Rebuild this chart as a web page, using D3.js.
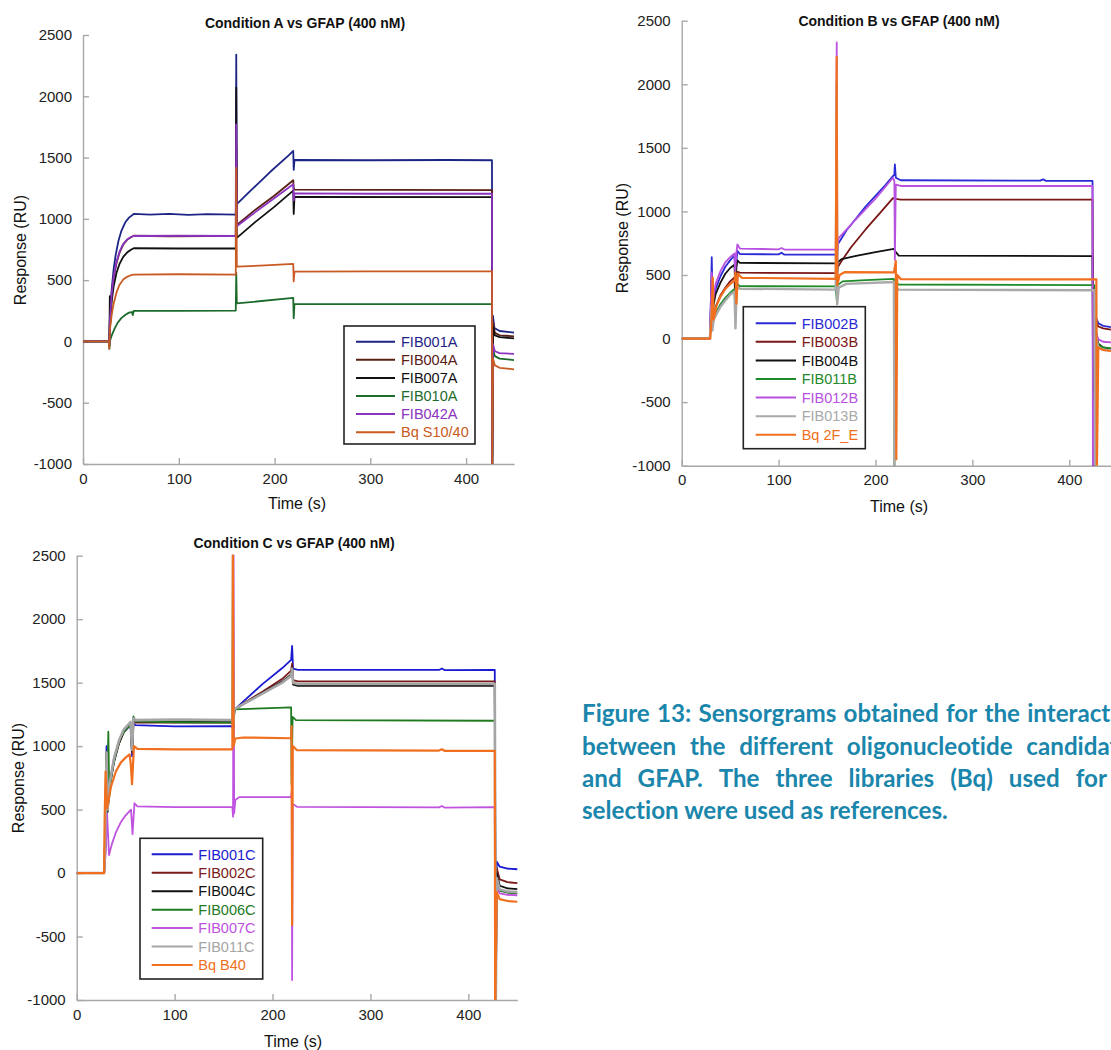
<!DOCTYPE html>
<html>
<head>
<meta charset="utf-8">
<script src="https://cdn.jsdelivr.net/npm/d3@7"></script>
<style>
  body { margin: 0; background: #fff; overflow: hidden; }
  svg { display: block; }
</style>
</head>
<body>
<div id="wrapper"></div>
<script>
// ---- data: [time (s), response (RU)] ----
const xTicks = [0, 100, 200, 300, 400]
const yTicks = [-1000, -500, 0, 500, 1000, 1500, 2000, 2500]

// Condition A
const namesA = ["FIB001A", "FIB004A", "FIB007A", "FIB010A", "FIB042A", "Bq S10/40"]
const fib001A = [[0,0],[27,0],[27.5,-40],[28,180],[29,320],[30,430],[32,590],[34,700],[37,820],[40,900],[44,970],[48,1010],[53,1040],[70,1035],[90,1040],[110,1032],[130,1038],[159.5,1035],[160,2340],[160.6,1120],[175,1230],[195,1380],[215,1520],[219.5,1555],[220,1400],[220.8,1480],[300,1478],[380,1480],[427,1478],[427.3,-930],[428,210],[429.5,110],[435,85],[450,72]]
const fib004A = [[0,0],[27,0],[27.5,-30],[28,150],[30,380],[32,520],[35,640],[38,720],[42,790],[46,830],[50,850],[53,862],[90,858],[130,860],[159.5,860],[160,1600],[160.6,950],[180,1075],[200,1190],[219.5,1315],[220,1250],[220.8,1238],[427,1235],[427.3,-1050],[428,160],[430,70],[435,50],[450,42]]
const fib007A = [[0,0],[27,0],[27.5,-30],[28,370],[28.6,150],[30,330],[32,450],[35,560],[38,630],[42,690],[46,725],[50,748],[53,760],[100,758],[159.5,758],[160,2070],[160.6,845],[180,975],[200,1100],[219.5,1230],[220,1040],[220.8,1180],[427,1178],[427.3,-1050],[428,120],[430,50],[435,35],[450,25]]
const fib010A = [[0,0],[27,0],[27.5,-60],[28,0],[30,50],[33,105],[36,150],[40,190],[44,215],[48,235],[51,240],[52,215],[53,250],[100,250],[159.5,252],[160,560],[160.6,310],[219.5,355],[220,190],[220.8,305],[427,305],[427.3,-1050],[428,-60],[430,-120],[435,-140],[450,-152]]
const fib042A = [[0,0],[27,0],[27.5,-30],[28,160],[30,390],[32,530],[35,650],[38,730],[42,795],[46,830],[50,852],[53,860],[100,862],[159.5,860],[160,1770],[160.6,940],[180,1055],[200,1170],[219.5,1282],[220,1150],[220.8,1208],[300,1205],[427,1205],[427.3,-1050],[428,-20],[430,-80],[435,-95],[450,-102]]
const bqS1040 = [[0,0],[27,0],[27.5,-60],[28,90],[30,220],[32,310],[35,400],[38,460],[42,505],[46,527],[50,540],[53,545],[100,548],[159.5,545],[160,1415],[160.6,610],[190,620],[219.5,632],[220,490],[220.8,570],[300,572],[427,572],[427.3,-1050],[428,-140],[430,-195],[435,-215],[450,-228]]

// Condition B
const namesB = ["FIB002B", "FIB003B", "FIB004B", "FIB011B", "FIB012B", "FIB013B", "Bq 2F_E"]
const fib002B = [[0,0],[29,0],[30,250],[31,640],[32,260],[35,390],[40,490],[45,565],[50,615],[54.5,655],[55.2,470],[56.5,610],[57.5,690],[60,665],[100,662],[103,675],[106,660],[159,660],[160,450],[161,740],[170,850],[190,1040],[210,1205],[218,1278],[219.5,1290],[220,1370],[221,1265],[226,1245],[370,1242],[373,1252],[376,1240],[424,1240],[424.6,-1050],[428,160],[430,120],[435,100],[443,90]]
const fib003B = [[0,0],[29,0],[30,100],[31,260],[32,140],[35,250],[40,340],[45,400],[50,450],[54.5,480],[55.2,320],[56.5,450],[57.5,525],[60,518],[159,515],[160,420],[161,560],[165,610],[175,720],[190,860],[205,990],[218,1105],[221,1098],[226,1092],[424,1092],[425,-1050],[428,130],[430,95],[435,80],[443,70]]
const fib004B = [[0,0],[29,0],[30,200],[31,470],[32,230],[35,350],[40,440],[45,510],[50,555],[54.5,580],[55.2,400],[56.5,560],[57.5,615],[60,595],[159,592],[160,460],[161,600],[165,625],[180,650],[200,680],[219,705],[221,680],[224,652],[424,648],[425,-1050],[428,40],[430,-40],[435,-70],[443,-80]]
const fib011B = [[0,0],[29,0],[30,150],[31,280],[32,120],[35,200],[40,270],[45,320],[50,360],[54.5,390],[55.2,220],[56.5,370],[57.5,430],[60,412],[159,410],[160,300],[161,420],[166,450],[190,460],[219,470],[219.5,-1050],[220.5,440],[224,425],[426,420],[426.5,-1050],[428,20],[430,-50],[435,-70],[443,-78]]
const fib012B = [[0,0],[29,0],[30,280],[31,520],[32,280],[35,430],[40,530],[45,600],[50,640],[54.5,670],[55.2,520],[56.5,680],[57.5,740],[60,708],[100,702],[103,712],[106,700],[159,700],[160,2330],[160.6,700],[162,790],[180,940],[200,1100],[218,1265],[219.5,1240],[220,620],[221,1210],[226,1200],[424,1200],[424.4,-1050],[428,40],[430,-5],[435,-25],[443,-30]]
const fib013B = [[0,0],[29,0],[30,120],[31,260],[31.7,63],[33,150],[40,250],[45,300],[50,345],[54.5,370],[55.5,80],[56.5,350],[57.5,410],[60,392],[159,385],[160,2000],[160.5,270],[162,400],[170,430],[219,445],[219.5,-1050],[220.5,400],[224,385],[426,380],[426.7,-1050],[428,0],[430,-70],[435,-88],[443,-95]]
const bq2FE = [[0,0],[29.5,0],[31,180],[32,480],[33,150],[36,260],[40,330],[45,390],[50,430],[54.5,455],[55.5,520],[56.5,275],[58,510],[62,478],[159,470],[160,2215],[160.5,420],[163,500],[168,522],[219,520],[221,610],[221.5,-950],[222.5,500],[226,468],[428,465],[428.5,-1050],[430,-70],[435,-90],[443,-98]]

// Condition C
const namesC = ["FIB001C", "FIB002C", "FIB004C", "FIB006C", "FIB007C", "FIB011C", "Bq B40"]
const fib001C = [[0,0],[28,0],[29,300],[30.5,1000],[31.5,520],[34,720],[38,900],[43,1030],[48,1110],[55,1165],[56.5,920],[58,1180],[60,1165],[100,1155],[159,1158],[160,1100],[161,1285],[170,1350],[190,1490],[210,1615],[219,1680],[220,1790],[221,1610],[226,1600],[370,1600],[373,1612],[376,1598],[427,1600],[427.6,-1050],[429,90],[432,50],[440,35],[450,30]]
const fib002C = [[0,0],[28,0],[29,280],[30.5,950],[31.5,500],[34,700],[38,880],[43,1020],[48,1110],[55,1175],[56.5,950],[58,1200],[60,1185],[159,1185],[160,1150],[161,1285],[170,1335],[190,1430],[210,1530],[219,1595],[220,1650],[221,1520],[226,1510],[427,1510],[428,-1050],[429,40],[432,-50],[440,-72],[450,-80]]
const fib004C = [[0,0],[28,0],[29,260],[30.5,920],[31.5,480],[34,690],[38,870],[43,1015],[48,1110],[55,1180],[56.5,960],[58,1210],[60,1195],[159,1195],[160,1160],[161,1285],[170,1330],[190,1420],[210,1510],[219,1565],[220,1620],[221,1485],[226,1475],[427,1475],[428,-1050],[429,0],[432,-100],[440,-120],[450,-127]]
const fib006C = [[0,0],[28,0],[29.5,200],[31,600],[32.3,1113],[33.3,600],[36,800],[40,950],[45,1070],[50,1130],[55,1165],[56.5,1048],[58,1235],[60,1195],[100,1188],[159,1185],[159.5,2600],[160.3,1240],[162,1290],[190,1298],[219,1305],[219.5,700],[220.5,1230],[224,1205],[427,1200],[427.8,-1050],[429,-60],[432,-140],[440,-155],[450,-160]]
const fib007C = [[0,0],[28,0],[29.5,150],[31,472],[33,142],[36,230],[40,320],[45,400],[50,455],[55.5,500],[57,307],[59,550],[62,525],[100,520],[159,520],[159.7,444],[160.2,2600],[160.8,470],[162,575],[166,598],[219,600],[219.6,640],[220,-843],[220.6,545],[225,522],[370,518],[373,528],[376,515],[427,520],[427.8,-1050],[429,-110],[432,-160],[440,-172],[450,-175]]
const fib011C = [[0,0],[28,0],[29,270],[30.5,950],[31.5,500],[34,720],[38,900],[43,1040],[48,1130],[55,1190],[56.5,970],[58,1220],[60,1205],[100,1210],[159,1205],[160,1170],[161,1290],[170,1330],[190,1415],[210,1500],[219,1555],[220,1610],[221,1500],[226,1490],[427,1490],[428,-1050],[429,-40],[432,-130],[440,-145],[450,-150]]
const bqB40 = [[0,0],[28,0],[28.5,400],[29.5,800],[31,510],[35,680],[40,800],[45,870],[50,910],[54,935],[55.2,860],[56.5,701],[58.5,1000],[62,978],[100,975],[159,975],[159.5,2600],[160.3,1000],[162,1060],[170,1068],[219,1062],[219.5,1157],[220,-410],[220.7,1000],[225,968],[370,965],[373,975],[376,962],[427,963],[427.4,-1050],[429,-150],[432,-205],[440,-220],[450,-226]]

const captionLines = [
    "Figure 13: Sensorgrams obtained for the interaction",
    "between the different oligonucleotide candidates",
    "and GFAP. The three libraries (Bq) used for",
    "selection were used as references."
]

// ---- layout ----
const panels = [
    {
        title: "Condition A vs GFAP (400 nM)", names: namesA,
        series: [fib001A, fib004A, fib007A, fib010A, fib042A, bqS1040],
        colors: ["#1c2585", "#5a2016", "#111111", "#1d6b2b", "#8b34c0", "#c85a22"],
        widths: [1.8, 1.8, 1.8, 1.8, 1.8, 1.8],
        left: 83, right: 514, top: 35, bottom: 464,
        titleX: 305, titleY: 28, yLabX: 26, yLabY: 250, xLabX: 297, xLabY: 509,
        legend: { x: 344, y: 326, w: 131, h: 118, row0: 341.7, step: 18.1, lx0: 356, lx1: 395, tx: 401 }
    },
    {
        title: "Condition B vs GFAP (400 nM)", names: namesB,
        series: [fib002B, fib003B, fib004B, fib011B, fib012B, fib013B, bq2FE],
        colors: ["#2a2ad6", "#7a1616", "#111111", "#1f8a2a", "#b851e0", "#a9a9a9", "#f07020"],
        widths: [1.8, 1.8, 1.8, 1.8, 1.8, 2.4, 2.2],
        left: 681.7, right: 1117.7, top: 20.7, bottom: 465.7,
        titleX: 899, titleY: 26, yLabX: 628, yLabY: 238, xLabX: 899, xLabY: 512,
        legend: { x: 743.3, y: 306.7, w: 122, h: 142, row0: 323.3, step: 18.57, lx0: 755.7, lx1: 796, tx: 801.7 }
    },
    {
        title: "Condition C vs GFAP (400 nM)", names: namesC,
        series: [fib001C, fib002C, fib004C, fib006C, fib007C, fib011C, bqB40],
        colors: ["#1a1ad0", "#7a1a1a", "#111111", "#1f7a1f", "#c052e0", "#a5a5a5", "#f07020"],
        widths: [1.8, 1.8, 1.8, 1.8, 1.8, 2.6, 2.2],
        left: 76.7, right: 517.3, top: 555.7, bottom: 1000,
        titleX: 294, titleY: 548, yLabX: 24, yLabY: 778, xLabX: 293, xLabY: 1047,
        legend: { x: 140, y: 838.3, w: 122.7, h: 140.7, row0: 854.3, step: 18.45, lx0: 151.7, lx1: 192.7, tx: 198.3 }
    }
]

const svg = d3.select("#wrapper")
    .append("svg")
        .attr("width", 1111)
        .attr("height", 1050)
        .style("font-family", "'Liberation Sans', Arial, sans-serif")

panels.forEach((p, i) => drawPanel(p, i))
drawCaption()

function drawPanel(p, idx) {
    const xScale = d3.scaleLinear().domain([0, 450]).range([p.left, p.right])
    const yScale = d3.scaleLinear().domain([-1000, 2500]).range([p.bottom, p.top])
    const g = svg.append("g")
    const plain = d => String(d)   // "2500", "-1000" as in the original

    g.append("clipPath").attr("id", "clip" + idx)
        .append("rect")
            .attr("x", p.left).attr("y", p.top - 1)
            .attr("width", p.right - p.left + 2)
            .attr("height", p.bottom - p.top + 1)

    // axes
    const xAxis = g.append("g")
        .attr("transform", `translate(0,${p.bottom})`)
        .call(d3.axisBottom(xScale).tickValues(xTicks).tickFormat(plain)
            .tickSize(-6).tickSizeOuter(0).tickPadding(9))
    const yAxis = g.append("g")
        .attr("transform", `translate(${p.left},0)`)
        .call(d3.axisLeft(yScale).tickValues(yTicks).tickFormat(plain)
            .tickSize(-6).tickSizeOuter(0).tickPadding(11))
    ;[xAxis, yAxis].forEach(a => {
        a.selectAll("path, line").attr("stroke", "#a8a8a8").attr("stroke-width", 1.4)
        a.selectAll("text").attr("font-size", 15).attr("fill", "#222")
            .style("font-family", "'Liberation Sans', Arial, sans-serif")
    })

    // sensorgram traces
    const lineGenerator = d3.line()
        .x(d => xScale(d[0]))
        .y(d => yScale(d[1]))
    p.series.forEach((s, j) => {
        g.append("path")
            .attr("clip-path", `url(#clip${idx})`)
            .attr("d", lineGenerator(s))
            .attr("fill", "none")
            .attr("stroke", p.colors[j])
            .attr("stroke-width", p.widths[j])
            .attr("stroke-linejoin", "round")
    })

    // labels
    g.append("text").text(p.title)
        .attr("x", p.titleX).attr("y", p.titleY)
        .attr("text-anchor", "middle").attr("font-size", 14).attr("font-weight", "bold").attr("fill", "#111")
    g.append("text").text("Response (RU)")
        .attr("transform", `translate(${p.yLabX},${p.yLabY}) rotate(-90)`)
        .attr("text-anchor", "middle").attr("font-size", 16).attr("fill", "#111")
    g.append("text").text("Time (s)")
        .attr("x", p.xLabX).attr("y", p.xLabY)
        .attr("text-anchor", "middle").attr("font-size", 16).attr("fill", "#111")

    // legend
    const L = p.legend
    g.append("rect")
        .attr("x", L.x).attr("y", L.y).attr("width", L.w).attr("height", L.h)
        .attr("fill", "#fff").attr("stroke", "#222").attr("stroke-width", 1.6)
    p.names.forEach((name, j) => {
        const yy = L.row0 + j * L.step
        g.append("line")
            .attr("x1", L.lx0).attr("x2", L.lx1).attr("y1", yy).attr("y2", yy)
            .attr("stroke", p.colors[j]).attr("stroke-width", 2)
        g.append("text").text(name)
            .attr("x", L.tx).attr("y", yy).attr("dy", "0.36em")
            .attr("font-size", 14.5).attr("fill", p.colors[j])
    })
}

function drawCaption() {
    const left = 582
    const baselines = [722, 754.5, 787, 819]
    const rightEdges = [1144, 1142, 1107, null]
    const cap = svg.append("g")
        .attr("fill", "#1a86ac")
        .attr("font-weight", "bold")
        .style("font-family", "Lato, 'Open Sans', sans-serif")
        .style("font-variant-ligatures", "none")

    // fit font size so the last (unjustified) line spans ~366px
    const probe = cap.append("text").attr("font-size", 20).text(captionLines[3])
    const fontSize = 20 * 366 / probe.node().getComputedTextLength()
    probe.remove()
    cap.attr("font-size", fontSize)

    captionLines.forEach((txt, i) => {
        if (rightEdges[i] === null) {
            cap.append("text").attr("x", left).attr("y", baselines[i]).text(txt)
            return
        }
        const words = txt.split(" ")
        const widths = words.map(w => {
            const t = cap.append("text").text(w)
            const wd = t.node().getComputedTextLength()
            t.remove()
            return wd
        })
        const gap = (rightEdges[i] - left - d3.sum(widths)) / (words.length - 1)
        let xx = left
        words.forEach((w, k) => {
            cap.append("text").attr("x", xx).attr("y", baselines[i]).text(w)
            xx += widths[k] + gap
        })
    })
}
</script>
</body>
</html>
